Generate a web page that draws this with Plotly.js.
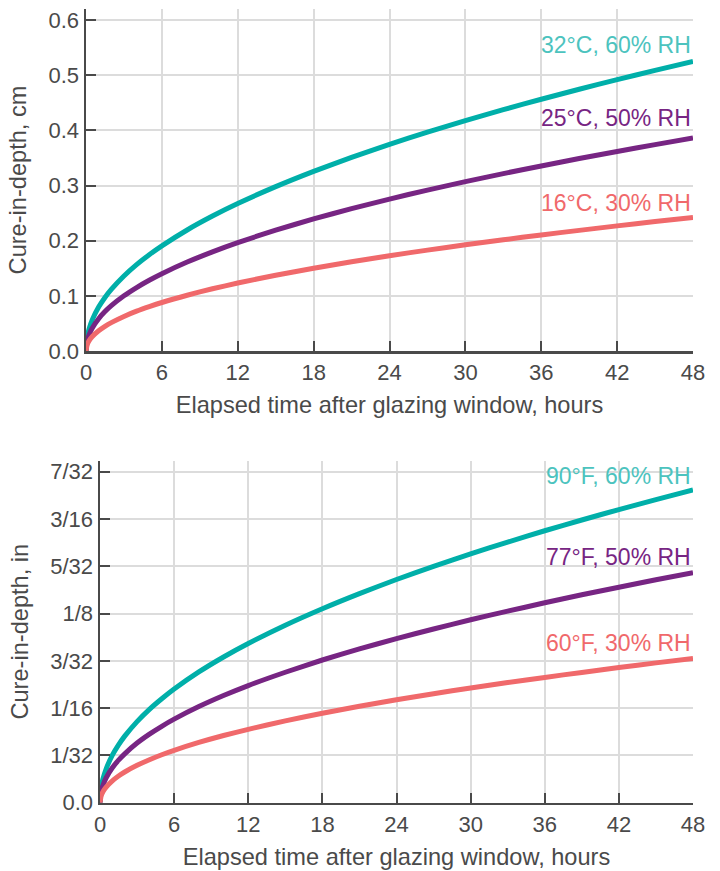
<!DOCTYPE html>
<html>
<head>
<meta charset="utf-8">
<script src="https://cdn.plot.ly/plotly-3.0.1.min.js"></script>
<style>
  html, body { margin: 0; padding: 0; background: #ffffff; }
  #chart { width: 720px; height: 871px; }
</style>
</head>
<body>
<div id="chart"></div>
<script>
// Elapsed time after glazing window, hours
const hours = [0, 0.1, 0.25, 0.5, 1, 1.5, 2, 3, 4, 5, 6, 8, 10, 12, 15, 18, 21, 24, 27, 30, 33, 36, 39, 42, 45, 48];

// Cure-in-depth, cm (top panel)
const cm_32C_60RH = [0, 0.0259, 0.0406, 0.0569, 0.0797, 0.0971, 0.1117, 0.1361, 0.1566, 0.1745, 0.1907, 0.2194, 0.2446, 0.2673, 0.2979, 0.3256, 0.3510, 0.3746, 0.3967, 0.4176, 0.4374, 0.4564, 0.4745, 0.4920, 0.5088, 0.5250];
const cm_25C_50RH = [0, 0.0190, 0.0298, 0.0418, 0.0586, 0.0714, 0.0821, 0.1001, 0.1151, 0.1283, 0.1402, 0.1613, 0.1798, 0.1965, 0.2190, 0.2394, 0.2581, 0.2754, 0.2917, 0.3070, 0.3216, 0.3355, 0.3489, 0.3617, 0.3741, 0.3860];
const cm_16C_30RH = [0, 0.0119, 0.0187, 0.0262, 0.0367, 0.0448, 0.0515, 0.0627, 0.0722, 0.0804, 0.0879, 0.1011, 0.1128, 0.1232, 0.1373, 0.1501, 0.1618, 0.1727, 0.1829, 0.1925, 0.2016, 0.2104, 0.2187, 0.2268, 0.2346, 0.2420];

// Cure-in-depth, in (bottom panel)
const in_90F_60RH = [0, 0.0102, 0.0160, 0.0224, 0.0314, 0.0382, 0.0440, 0.0536, 0.0617, 0.0687, 0.0751, 0.0864, 0.0963, 0.1052, 0.1173, 0.1282, 0.1382, 0.1475, 0.1562, 0.1644, 0.1722, 0.1797, 0.1868, 0.1937, 0.2003, 0.2067];
const in_77F_50RH = [0, 0.0075, 0.0117, 0.0165, 0.0231, 0.0281, 0.0323, 0.0394, 0.0453, 0.0505, 0.0552, 0.0635, 0.0708, 0.0774, 0.0862, 0.0943, 0.1016, 0.1084, 0.1148, 0.1209, 0.1266, 0.1321, 0.1374, 0.1424, 0.1473, 0.1520];
const in_60F_30RH = [0, 0.0047, 0.0074, 0.0103, 0.0144, 0.0176, 0.0203, 0.0247, 0.0284, 0.0317, 0.0346, 0.0398, 0.0444, 0.0485, 0.0541, 0.0591, 0.0637, 0.0680, 0.0720, 0.0758, 0.0794, 0.0828, 0.0861, 0.0893, 0.0924, 0.0953];

const labelsCm = ["32°C, 60% RH", "25°C, 50% RH", "16°C, 30% RH"];
const labelsIn = ["90°F, 60% RH", "77°F, 50% RH", "60°F, 30% RH"];
const labelYcm = [0.554, 0.422, 0.268];
const labelYin = [0.2159, 0.1626, 0.1053];

const xTicks = [0, 6, 12, 18, 24, 30, 36, 42, 48];
const cmTicks = [0, 0.1, 0.2, 0.3, 0.4, 0.5, 0.6];
const cmTickText = ["0.0", "0.1", "0.2", "0.3", "0.4", "0.5", "0.6"];
const inTicks = [0, 1/32, 1/16, 3/32, 1/8, 5/32, 3/16, 7/32];
const inTickText = ["0.0", "1/32", "1/16", "3/32", "1/8", "5/32", "3/16", "7/32"];

const lineColors = ["#00AFA9", "#772583", "#F0696B"];
const textColors = ["#4CC3BE", "#772583", "#F0696B"];

const FONT = "Liberation Sans, Arial, Helvetica, sans-serif";
const AX = "#4a4a4a";

const cmSeries = [cm_32C_60RH, cm_25C_50RH, cm_16C_30RH];
const inSeries = [in_90F_60RH, in_77F_50RH, in_60F_30RH];

const traces = [];
cmSeries.forEach((ys, i) => traces.push({
  x: hours, y: ys, xaxis: "x", yaxis: "y", type: "scatter", mode: "lines",
  name: labelsCm[i], line: {color: lineColors[i], width: 5, shape: "spline", smoothing: 0.6},
  showlegend: false, hoverinfo: "skip"
}));
inSeries.forEach((ys, i) => traces.push({
  x: hours, y: ys, xaxis: "x2", yaxis: "y2", type: "scatter", mode: "lines",
  name: labelsIn[i], line: {color: lineColors[i], width: 5, shape: "spline", smoothing: 0.6},
  showlegend: false, hoverinfo: "skip"
}));

const annotations = [];
labelsCm.forEach((t, i) => annotations.push({
  xref: "x", yref: "y", x: 48, y: labelYcm[i], text: t, showarrow: false,
  xanchor: "right", yanchor: "middle", font: {family: FONT, size: 23, color: textColors[i]}
}));
labelsIn.forEach((t, i) => annotations.push({
  xref: "x2", yref: "y2", x: 48, y: labelYin[i], text: t, showarrow: false,
  xanchor: "right", yanchor: "middle", font: {family: FONT, size: 23, color: textColors[i]}
}));

function xAxis(domain, anchor) {
  return {
    domain: domain, anchor: anchor, range: [0, 48],
    tickvals: xTicks, ticktext: xTicks.map(String),
    ticks: "inside", ticklen: 10, tickwidth: 2, tickcolor: AX,
    showline: true, linecolor: AX, linewidth: 2.5,
    showgrid: true, gridcolor: "#dcdcdc", gridwidth: 2, zeroline: false,
    tickfont: {family: FONT, size: 22, color: AX},
    title: {text: "Elapsed time after glazing window, hours", font: {family: FONT, size: 23.6, color: AX}, standoff: 13},
    automargin: false, fixedrange: true
  };
}
function yAxis(domain, anchor, range, vals, text, title) {
  return {
    domain: domain, anchor: anchor, range: range,
    tickvals: vals, ticktext: text,
    ticks: "inside", ticklen: 10, tickwidth: 2, tickcolor: AX,
    showline: true, linecolor: AX, linewidth: 2.5,
    showgrid: true, gridcolor: "#dcdcdc", gridwidth: 2, zeroline: false,
    tickfont: {family: FONT, size: 22, color: AX},
    title: {text: title, font: {family: FONT, size: 23.6, color: AX}, standoff: 15},
    automargin: false, fixedrange: true
  };
}

const layout = {
  width: 720, height: 871,
  margin: {l: 0, r: 0, t: 0, b: 0},
  paper_bgcolor: "#ffffff", plot_bgcolor: "#ffffff",
  showlegend: false,
  xaxis: xAxis([86/720, 693/720], "y"),
  yaxis: yAxis([(871-351)/871, (871-9)/871], "x", [0, 0.62], cmTicks, cmTickText, "Cure-in-depth, cm"),
  xaxis2: xAxis([100/720, 693/720], "y2"),
  yaxis2: yAxis([(871-802.7)/871, (871-460.7)/871], "x2", [0, 0.226], inTicks, inTickText, "Cure-in-depth, in"),
  annotations: annotations
};

Plotly.newPlot("chart", traces, layout, {staticPlot: true, displayModeBar: false});
</script>
</body>
</html>
